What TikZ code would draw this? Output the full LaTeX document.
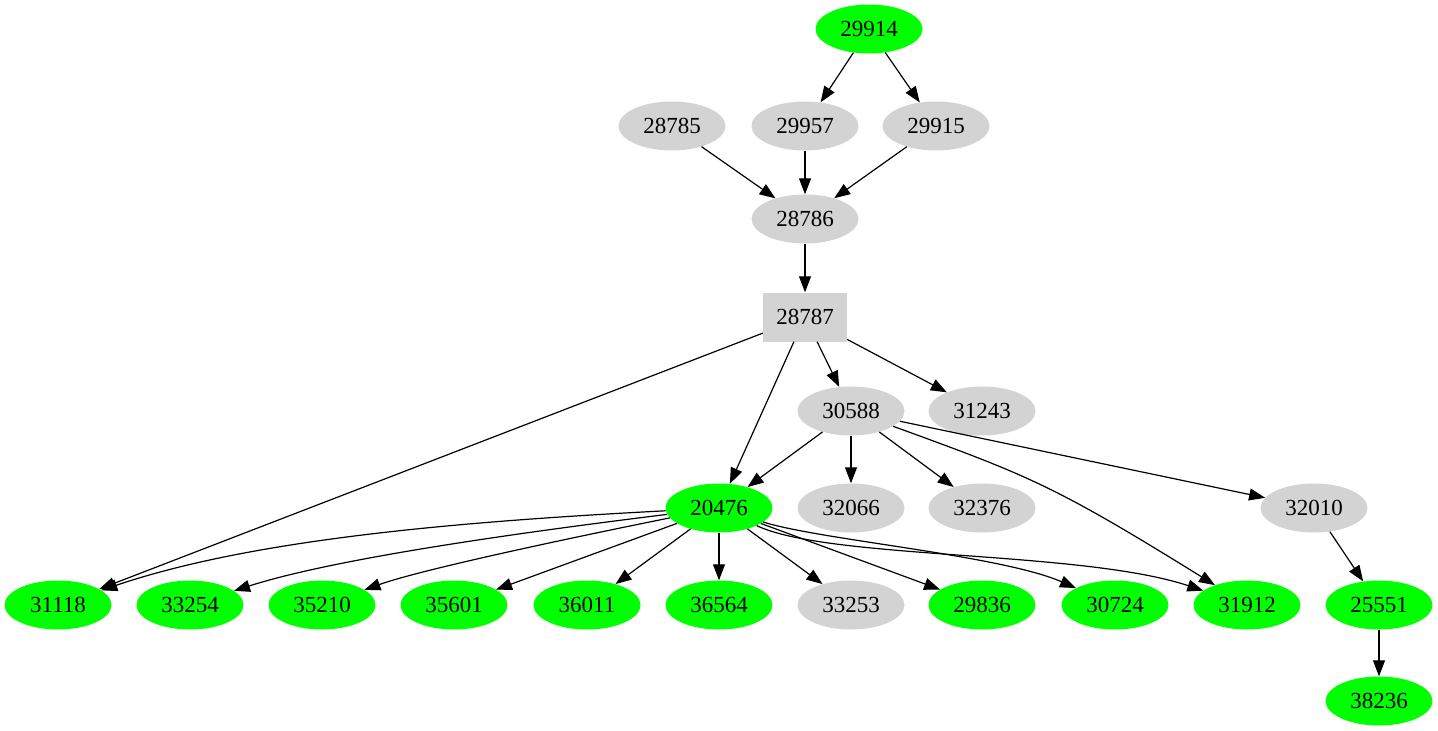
\documentclass[tikz,border=0pt]{standalone}
\usepackage{fontspec}
\setmainfont{Liberation Serif}
\usetikzlibrary{shapes.geometric,arrows.meta}
\definecolor{gvgreen}{HTML}{00FF00}
\definecolor{gvgray}{HTML}{D3D3D3}
\tikzset{
  gnode/.style={ellipse,fill=gvgreen,minimum width=107pt,minimum height=49pt,inner sep=0pt,font=\fontsize{23}{23}\selectfont},
  lnode/.style={ellipse,fill=gvgray,minimum width=107pt,minimum height=49pt,inner sep=0pt,font=\fontsize{23}{23}\selectfont},
  bnode/.style={rectangle,fill=gvgray,minimum width=84pt,minimum height=49pt,inner sep=0pt,font=\fontsize{23}{23}\selectfont},
  edge/.style={draw,line width=1.2pt,-{Triangle[length=16pt,width=12pt]}}
}
\begin{document}
\begin{tikzpicture}[x=1pt,y=-1pt]
\useasboundingbox (0,0) rectangle (1438,731);
\node[gnode] (n29914) at (869,29) {29914};
\node[lnode] (n28785) at (672,126) {28785};
\node[lnode] (n29957) at (805,126) {29957};
\node[lnode] (n29915) at (936,126) {29915};
\node[lnode] (n28786) at (805,219) {28786};
\node[bnode] (n28787) at (805,317) {28787};
\node[lnode] (n30588) at (851,411) {30588};
\node[lnode] (n31243) at (982,411) {31243};
\node[gnode] (n20476) at (719,508) {20476};
\node[lnode] (n32066) at (851,508) {32066};
\node[lnode] (n32376) at (982,508) {32376};
\node[lnode] (n32010) at (1314,508) {32010};
\node[gnode] (n31118) at (58,605) {31118};
\node[gnode] (n33254) at (190,605) {33254};
\node[gnode] (n35210) at (322,605) {35210};
\node[gnode] (n35601) at (454,605) {35601};
\node[gnode] (n36011) at (587,605) {36011};
\node[gnode] (n36564) at (719,605) {36564};
\node[lnode] (n33253) at (851,605) {33253};
\node[gnode] (n29836) at (982,605) {29836};
\node[gnode] (n30724) at (1115,605) {30724};
\node[gnode] (n31912) at (1247,605) {31912};
\node[gnode] (n25551) at (1379,605) {25551};
\node[gnode] (n38236) at (1379,701) {38236};

\draw[edge] (n29914) -- (n29957);
\draw[edge] (n29914) -- (n29915);
\draw[edge] (n28785) -- (n28786);
\draw[edge] (n29957) -- (n28786);
\draw[edge] (n29915) -- (n28786);
\draw[edge] (n28786) -- (n28787);
\draw[edge] (n28787) -- (n31118);
\draw[edge] (n28787) -- (n20476);
\draw[edge] (n28787) -- (n30588);
\draw[edge] (n28787) -- (n31243);
\draw[edge] (n30588) -- (n20476);
\draw[edge] (n30588) -- (n32066);
\draw[edge] (n30588) -- (n32376);
\draw[edge] (n30588) .. controls (1030,476) and (1055,486) .. (n31912);
\draw[edge] (n30588) -- (n32010);
\draw[edge] (n20476) .. controls (450,522) and (250,540) .. (n31118);
\draw[edge] (n20476) .. controls (500,535) and (330,560) .. (n33254);
\draw[edge] (n20476) .. controls (560,540) and (420,570) .. (n35210);
\draw[edge] (n20476) -- (n35601);
\draw[edge] (n20476) -- (n36011);
\draw[edge] (n20476) -- (n36564);
\draw[edge] (n20476) -- (n33253);
\draw[edge] (n20476) -- (n29836);
\draw[edge] (n20476) .. controls (820,540) and (1000,555) .. (n30724);
\draw[edge] (n20476) .. controls (830,560) and (1080,550) .. (n31912);
\draw[edge] (n32010) -- (n25551);
\draw[edge] (n25551) -- (n38236);
\end{tikzpicture}
\end{document}
